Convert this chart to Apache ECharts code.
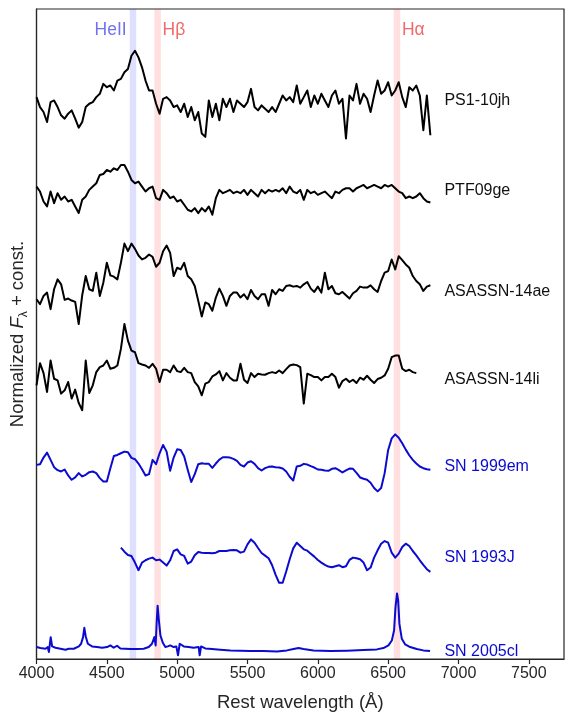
<!DOCTYPE html>
<html>
<head>
<meta charset="utf-8">
<script src="https://cdn.jsdelivr.net/npm/echarts@6/dist/echarts.min.js"></script>
<style>
  html, body { margin: 0; padding: 0; background: #ffffff; }
  #chart { width: 565px; height: 717px; }
</style>
</head>
<body>
<div id="chart"></div>
<script>
// Rest-frame wavelength grid (Å) shared by the resampled spectra
const WAVE_GRID = [
  4000, 4025, 4050, 4075, 4100, 4125, 4150, 4175, 4200, 4225,
  4250, 4275, 4300, 4325, 4350, 4375, 4400, 4425, 4450, 4475,
  4500, 4525, 4550, 4575, 4600, 4625, 4650, 4675, 4700, 4725,
  4750, 4775, 4800, 4825, 4850, 4875, 4900, 4925, 4950, 4975,
  5000, 5025, 5050, 5075, 5100, 5125, 5150, 5175, 5200, 5225,
  5250, 5275, 5300, 5325, 5350, 5375, 5400, 5425, 5450, 5475,
  5500, 5525, 5550, 5575, 5600, 5625, 5650, 5675, 5700, 5725,
  5750, 5775, 5800, 5825, 5850, 5875, 5900, 5925, 5950, 5975,
  6000, 6025, 6050, 6075, 6100, 6125, 6150, 6175, 6200, 6225,
  6250, 6275, 6300, 6325, 6350, 6375, 6400, 6425, 6450, 6475,
  6500, 6525, 6550, 6575, 6600, 6625, 6650, 6675, 6700, 6725,
  6750, 6775, 6800
];

// Normalized flux + constant offset (arbitrary units), one value per grid point
const PS1_10JH = [
  1696, 1666, 1651, 1621, 1681, 1686, 1666, 1641, 1631, 1646,
  1656, 1631, 1604, 1621, 1666, 1676, 1681, 1696, 1706, 1736,
  1726, 1731, 1716, 1746, 1751, 1771, 1781, 1821, 1836, 1816,
  1786, 1746, 1716, 1716, 1676, 1646, 1691, 1696, 1686, 1666,
  1671, 1651, 1676, 1636, 1666, 1626, 1651, 1586, 1576, 1686,
  1636, 1676, 1626, 1691, 1666, 1691, 1651, 1686, 1676, 1666,
  1681, 1721, 1666, 1656, 1671, 1661, 1651, 1666, 1651, 1676,
  1701, 1686, 1696, 1681, 1731, 1676, 1696, 1716, 1666, 1701,
  1676, 1706, 1686, 1666, 1701, 1716, 1676, 1691, 1571, 1701,
  1686, 1736, 1676, 1706, 1691, 1651, 1701, 1746, 1706, 1716,
  1741, 1701, 1716, 1741, 1696, 1666, 1726, 1716, 1731, 1701,
  1596, 1701, 1581
];

const PTF09GE = [
  1426, 1411, 1381, 1366, 1411, 1376, 1406, 1386, 1396, 1381,
  1386, 1366, 1346, 1386, 1396, 1416, 1426, 1436, 1461, 1464,
  1476, 1471, 1481, 1476, 1491, 1491, 1471, 1446, 1436, 1441,
  1426, 1411, 1421, 1426, 1391, 1386, 1416, 1406, 1391, 1396,
  1381, 1386, 1371, 1356, 1351, 1361, 1346, 1361, 1351, 1366,
  1341, 1391, 1416, 1406, 1411, 1416, 1406, 1411, 1406, 1416,
  1401, 1416, 1406, 1396, 1416, 1406, 1416, 1411, 1416, 1411,
  1421, 1406, 1426, 1411, 1406, 1416, 1386, 1416, 1406, 1411,
  1401, 1406, 1411, 1401, 1391, 1411, 1406, 1416, 1421, 1421,
  1411, 1421, 1426, 1431, 1421, 1426, 1431, 1426, 1421, 1431,
  1426, 1431, 1421, 1411, 1406, 1391, 1396, 1391, 1396, 1406,
  1391, 1381, 1378
];

const ASASSN_14AE = [
  1086, 1071, 1096, 1106, 1056, 1116, 1146, 1131, 1084, 1088,
  1082, 1078, 1011, 1098, 1156, 1116, 1111, 1166, 1096, 1136,
  1196, 1158, 1154, 1146, 1196, 1254, 1231, 1254, 1238, 1218,
  1206, 1211, 1221, 1214, 1184, 1196, 1231, 1248, 1226, 1156,
  1181, 1176, 1196, 1156, 1146, 1126, 1081, 1034, 1076, 1071,
  1051, 1091, 1118, 1096, 1066, 1096, 1106, 1106, 1091, 1101,
  1086, 1114, 1096, 1086, 1101, 1101, 1066, 1114, 1101, 1116,
  1111, 1126, 1128, 1124, 1126, 1121, 1131, 1138, 1118, 1108,
  1124, 1106, 1166, 1116, 1126, 1104, 1101, 1108, 1098, 1088,
  1104, 1111, 1124, 1121, 1121, 1128, 1116, 1108, 1141, 1166,
  1171, 1206, 1176, 1216, 1204, 1191, 1181, 1156, 1141, 1131,
  1111, 1124, 1128
];

// ends at 6700 Å
const ASASSN_14LI = [
  826, 893, 863, 806, 901, 846, 841, 801, 811, 836,
  786, 813, 773, 751, 901, 803, 826, 866, 881, 886,
  901, 876, 879, 886, 936, 1011, 961, 931, 926, 893,
  889, 886, 879, 891, 876, 836, 873, 873, 866, 886,
  869, 866, 879, 866, 863, 836, 823, 796, 831, 836,
  853, 859, 869, 841, 863, 849, 841, 841, 891, 843,
  833, 863, 851, 861, 859, 858, 863, 866, 863, 871,
  863, 875, 886, 889, 887, 881, 771, 861, 857, 851,
  851, 841, 851, 851, 861, 851, 819, 839, 846, 836,
  843, 833, 849, 843, 855, 843, 833, 845, 849, 856,
  876, 911, 916, 916, 876, 869, 873, 866, 863
];

const SN1999EM = [
  586, 588, 608, 623, 601, 579, 570, 566, 572, 554,
  541, 548, 561, 551, 556, 564, 566, 561, 546, 536,
  536, 576, 613, 616, 621, 626, 624, 607, 603, 590,
  573, 554, 558, 601, 588, 621, 646, 626, 568, 608,
  633, 631, 611, 571, 534, 558, 588, 591, 589, 589,
  577, 590, 602, 609, 609, 608, 604, 598, 586, 581,
  593, 597, 589, 576, 569, 576, 580, 581, 579, 578,
  575, 566, 550, 539, 581, 583, 589, 587, 582, 578,
  572, 571, 569, 568, 574, 576, 570, 563, 569, 575,
  574, 562, 548, 544, 541, 532, 516, 506, 516, 561,
  631, 666, 678, 668, 651, 632, 615, 601, 590, 581,
  576, 573, 571
];

// starts at 4600 Å
const SN1993J_START = 4600;
const SN1993J = [
  336, 324, 314, 311, 291, 268, 291, 298, 303, 306,
  298, 300, 291, 282, 298, 326, 331, 316, 311, 288,
  294, 313, 323, 321, 320, 320, 319, 321, 326, 326,
  326, 328, 329, 328, 321, 324, 346, 361, 351, 335,
  320, 312, 304, 283, 254, 230, 230, 264, 301, 334,
  351, 341, 331, 327, 318, 309, 299, 291, 284, 279,
  277, 280, 283, 277, 280, 299, 306, 304, 301, 291,
  268, 276, 306, 328, 348, 356, 351, 321, 306, 318,
  338, 348, 341, 326, 313, 298, 284, 271, 263
];

// SN 2005cl has narrow Balmer lines, so it keeps its own wavelength sampling
const SN2005CL_WAVE = [
  4000, 4028, 4064, 4080, 4088, 4101, 4111, 4135, 4170, 4206,
  4230, 4265, 4301, 4317, 4331, 4340, 4350, 4365, 4395, 4431,
  4466, 4502, 4525, 4549, 4573, 4596, 4632, 4667, 4715, 4762,
  4798, 4821, 4838, 4847, 4855, 4861, 4869, 4881, 4899, 4916,
  4933, 4951, 4975, 4994, 5006, 5018, 5047, 5082, 5117, 5153,
  5160, 5170, 5200, 5247, 5307, 5378, 5449, 5520, 5614, 5709,
  5780, 5827, 5863, 5898, 5969, 6088, 6206, 6324, 6419, 6466,
  6502, 6526, 6542, 6552, 6563, 6571, 6580, 6597, 6621, 6656,
  6703, 6750, 6798
];
const SN2005CL = [
  36, 33, 31, 36, 21, 66, 38, 34, 31, 28,
  31, 31, 38, 46, 66, 94, 68, 46, 38, 36,
  34, 36, 41, 34, 40, 32, 31, 30, 30, 31,
  36, 46, 66, 41, 116, 161, 121, 71, 48, 36,
  38, 41, 36, 38, 11, 46, 38, 36, 34, 36,
  11, 38, 32, 30, 28, 26, 25, 24, 24, 23,
  26, 30, 33, 30, 26, 24, 25, 27, 29, 33,
  41, 56, 86, 156, 198, 176, 106, 61, 44, 36,
  30, 26, 24
];

// Object names and the flux level each name sits at
const NAMES = ['PS1-10jh', 'PTF09ge', 'ASASSN-14ae', 'ASASSN-14li', 'SN 1999em', 'SN 1993J', 'SN 2005cl'];
const NAME_LEVEL = [1686, 1413, 1110, 843, 582, 306, 21];

// Marked lines: label, band edges (Å)
const LINE_LABELS = ['HeII', 'Hβ', 'Hα'];
const LINE_BANDS = [[4663, 4709], [4838, 4884], [6540, 6586]];

const FONT = '"Liberation Sans", Arial, sans-serif';
const INK = '#262626';
const BLACK = '#000000';
const BLUE = '#0a0ad0';

function onGrid(flux, startWave) {
  const start = WAVE_GRID.indexOf(startWave === undefined ? 4000 : startWave);
  return flux.map((v, i) => [WAVE_GRID[start + i], v]);
}

const spectra = [
  { data: onGrid(PS1_10JH), color: BLACK },
  { data: onGrid(PTF09GE), color: BLACK },
  { data: onGrid(ASASSN_14AE), color: BLACK },
  { data: onGrid(ASASSN_14LI), color: BLACK },
  { data: onGrid(SN1999EM), color: BLUE },
  { data: onGrid(SN1993J, SN1993J_START), color: BLUE },
  { data: SN2005CL_WAVE.map((w, i) => [w, SN2005CL[i]]), color: BLUE }
];

const series = spectra.map((s, i) => ({
  name: NAMES[i],
  type: 'line',
  data: s.data,
  showSymbol: false,
  symbol: 'none',
  silent: true,
  z: 2,
  lineStyle: { color: s.color, width: 2, join: 'round' }
}));

// translucent bands drawn over the spectra
const bandColors = ['rgba(40,40,255,0.15)', 'rgba(255,30,30,0.14)', 'rgba(255,30,30,0.14)'];
series.push({
  type: 'line',
  data: [],
  silent: true,
  z: 5,
  markArea: {
    silent: true,
    data: LINE_BANDS.map((b, i) => [
      { xAxis: b[0], itemStyle: { color: bandColors[i] } },
      { xAxis: b[1] }
    ])
  }
});

const chart = echarts.init(document.getElementById('chart'), null, { renderer: 'canvas' });

chart.setOption({
  animation: false,
  backgroundColor: '#ffffff',
  grid: {
    left: 36, right: 1, top: 9, bottom: 55,
    show: true, borderColor: INK, borderWidth: 1.2, backgroundColor: 'transparent'
  },
  xAxis: {
    type: 'value',
    min: 4000, max: 7750, interval: 500,
    name: 'Rest wavelength (Å)',
    nameLocation: 'middle',
    nameGap: 34,
    nameTextStyle: { fontFamily: FONT, fontSize: 18.5, color: INK },
    axisLine: { show: true, lineStyle: { color: INK, width: 1.2 } },
    axisTick: { show: true, inside: false, length: 5, lineStyle: { color: INK, width: 1.2 } },
    axisLabel: {
      fontFamily: FONT, fontSize: 16, color: INK, margin: 7, showMaxLabel: false,
      formatter: (v) => String(v)
    },
    splitLine: { show: false }
  },
  yAxis: {
    type: 'value',
    min: 0, max: 1962,
    name: '{n|Normalized }{i|F}{s|λ}{n| + const.}',
    nameLocation: 'middle',
    nameRotate: 90,
    nameGap: 7,
    nameTextStyle: {
      fontFamily: FONT, color: INK,
      rich: {
        n: { fontFamily: FONT, fontSize: 18.5, color: INK, lineHeight: 24 },
        i: { fontFamily: FONT, fontSize: 18.5, color: INK, fontStyle: 'italic', lineHeight: 24 },
        s: { fontFamily: FONT, fontSize: 12, color: INK, lineHeight: 14, verticalAlign: 'bottom' }
      }
    },
    axisLine: { show: true, lineStyle: { color: INK, width: 1.2 } },
    axisTick: { show: false },
    axisLabel: { show: false },
    splitLine: { show: false }
  },
  series: series
});

// Text labels placed in data coordinates
const px = (x, y) => chart.convertToPixel({ xAxisIndex: 0, yAxisIndex: 0 }, [x, y]);
const graphics = [];

NAMES.forEach((name, i) => {
  const p = px(6900, NAME_LEVEL[i]);
  graphics.push({
    type: 'text', x: p[0], y: p[1], silent: true,
    style: {
      text: name, fill: spectra[i].color === BLACK ? '#111111' : BLUE,
      font: '16px ' + FONT, textAlign: 'left', textVerticalAlign: 'middle'
    }
  });
});

const bandTextColors = ['#7272f0', '#f06a6a', '#f06a6a'];
LINE_LABELS.forEach((label, i) => {
  const leftSide = i === 0;
  const p = px(leftSide ? LINE_BANDS[i][0] - 22 : LINE_BANDS[i][1] + 12, 1899);
  graphics.push({
    type: 'text', x: p[0], y: p[1], silent: true, z: 10,
    style: {
      text: label, fill: bandTextColors[i],
      font: '17.5px ' + FONT, textAlign: leftSide ? 'right' : 'left', textVerticalAlign: 'middle'
    }
  });
});

chart.setOption({ graphic: graphics });
</script>
</body>
</html>
